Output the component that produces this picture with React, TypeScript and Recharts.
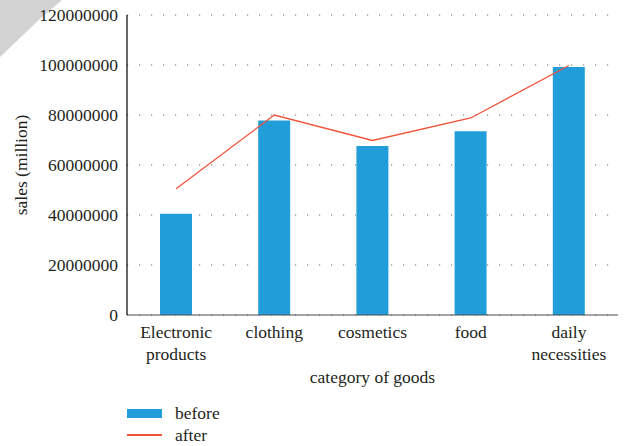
import { ComposedChart, Bar, Line, XAxis, YAxis, CartesianGrid, Legend, Label } from 'recharts';

const categories = ['Electronic products', 'clothing', 'cosmetics', 'food', 'daily necessities'];
const before = [40500000, 77800000, 67600000, 73500000, 99200000];
const after = [50500000, 80000000, 69800000, 78800000, 99800000];
const yTicks = [0, 20000000, 40000000, 60000000, 80000000, 100000000, 120000000];

const data = categories.map((name, i) => ({ name, before: before[i], after: after[i] }));

const FONT = 'Liberation Serif';
const BLUE = '#219ed9';
const RED = '#f0533a';
const TEXT = '#231f20';

function CategoryTick({ x, y, payload }: any) {
  const words = String(payload.value).split(' ');
  return (
    <text x={x} y={y} textAnchor="middle" fill={TEXT} style={{ fontFamily: FONT, fontSize: 17.5 }}>
      {words.map((w, i) => (
        <tspan key={w} x={x} dy={i === 0 ? '0.71em' : 22}>
          {w}
        </tspan>
      ))}
    </text>
  );
}

function LegendBox() {
  return (
    <div style={{ paddingLeft: 127, fontFamily: FONT, fontSize: 17.5, color: TEXT }}>
      <div style={{ display: 'flex', alignItems: 'center', height: 22 }}>
        <span style={{ display: 'inline-block', width: 35, height: 9, background: BLUE, marginRight: 13 }} />
        before
      </div>
      <div style={{ display: 'flex', alignItems: 'center', height: 22 }}>
        <span style={{ display: 'inline-block', width: 35, height: 1.5, background: RED, marginRight: 13 }} />
        after
      </div>
    </div>
  );
}

export default function App() {
  return (
    <div style={{ position: 'absolute', left: 0, top: 0, width: 633, height: 446, background: '#fff', fontFamily: FONT }}>
      {/* grey corner mark behind the chart */}
      <svg width={80} height={70} style={{ position: 'absolute', left: 0, top: 0 }}>
        <polygon points="0,0 62,0 42,17 0,57" fill="#d2d2d2" />
      </svg>
      <div style={{ position: 'absolute', left: 0, top: 0 }}>
        <ComposedChart width={633} height={446} data={data} margin={{ top: 15, right: 15, left: 0, bottom: 0 }} style={{ fontFamily: FONT }}>
          <CartesianGrid vertical={false} stroke="#666" strokeDasharray="1.2 10.8" />
          <XAxis
            dataKey="name"
            height={87}
            tickLine={false}
            tickSize={0}
            tickMargin={11}
            axisLine={{ stroke: '#4d4d4d', strokeWidth: 1.2 }}
            tick={<CategoryTick />}
            interval={0}
          >
            <Label
              value="category of goods"
              position="insideBottom"
              offset={19}
              style={{ fontFamily: FONT, fontSize: 17.5, fill: TEXT }}
            />
          </XAxis>
          <YAxis
            width={127}
            domain={[0, 120000000]}
            ticks={yTicks}
            tickLine={false}
            tickSize={0}
            tickMargin={9}
            axisLine={{ stroke: '#000', strokeWidth: 1.2 }}
            tick={{ fontSize: 17.5, fill: TEXT, style: { fontFamily: FONT } }}
          >
            <Label
              content={() => (
                <text
                  x={21}
                  y={165}
                  transform="rotate(-90, 21, 165)"
                  textAnchor="middle"
                  dominantBaseline="central"
                  fill={TEXT}
                  style={{ fontFamily: FONT, fontSize: 17.5 }}
                >
                  sales (million)
                </text>
              )}
            />
          </YAxis>
          <Legend verticalAlign="bottom" align="left" height={44} wrapperStyle={{ left: 0, width: 633 }} content={<LegendBox />} />
          <Bar dataKey="before" fill={BLUE} barSize={32} isAnimationActive={false} />
          <Line type="linear" dataKey="after" stroke={RED} strokeWidth={1.3} dot={false} activeDot={false} isAnimationActive={false} />
        </ComposedChart>
      </div>
    </div>
  );
}
